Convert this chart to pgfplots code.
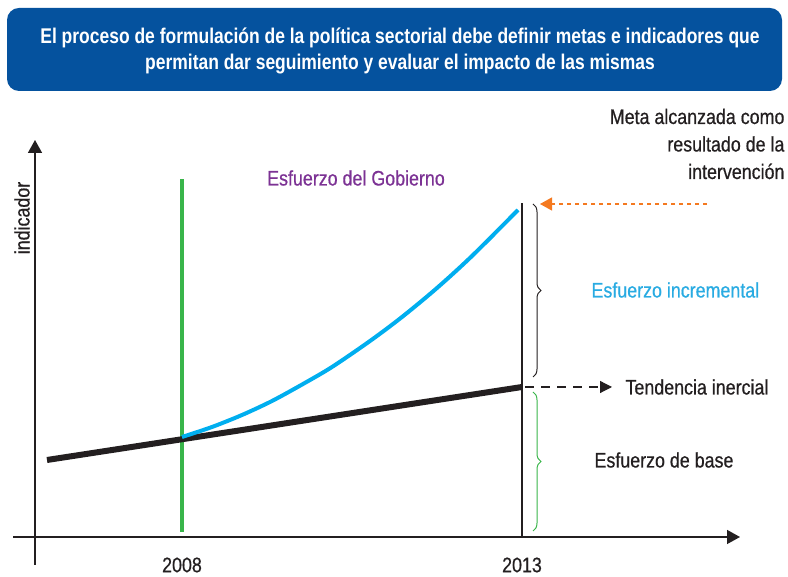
\documentclass[border=0pt]{standalone}
\usepackage{fontspec}
\setmainfont{Liberation Sans}[FakeStretch=0.85, FakeBold=0.6]
\newfontfamily\titlefont{Liberation Sans}[FakeStretch=0.82]
\usepackage{pgfplots}
\pgfplotsset{compat=1.18}
\usetikzlibrary{decorations.pathreplacing,arrows.meta}
\definecolor{titleblue}{RGB}{5,82,158}
\definecolor{curveblue}{RGB}{0,174,239}
\definecolor{txtblue}{RGB}{41,171,226}
\definecolor{govgreen}{RGB}{57,181,74}
\definecolor{govpurple}{RGB}{124,50,148}
\definecolor{metaorange}{RGB}{244,121,32}
\definecolor{dark}{RGB}{35,31,32}
\begin{document}
\begin{tikzpicture}
\begin{axis}[scale only axis, width=788pt, height=577pt,
  xmin=0, xmax=788, ymin=0, ymax=577, hide axis, clip=false]
\coordinate (bl) at (axis cs:0,0);
\coordinate (tr) at (axis cs:788,577);
% title box
\draw[fill=titleblue, draw=none, rounded corners=12pt] (axis cs:7,486) rectangle (axis cs:782,569);
\node[text=white, align=center, font=\titlefont\bfseries\fontsize{21.3}{26}\selectfont]
  at (axis cs:400,526) {El proceso de formulación de la política sectorial debe definir metas e indicadores que\\permitan dar seguimiento y evaluar el impacto de las mismas};
% axes
\draw[dark, line width=1.5pt, -{Triangle[length=13pt,width=14pt]}] (axis cs:35,12) -- (axis cs:35,437);
\draw[dark, line width=1.5pt, -{Triangle[length=13pt,width=14pt]}] (axis cs:13,40) -- (axis cs:740,40);
% vertical lines
\addplot[govgreen, line width=3.5pt] coordinates {(182,45) (182,398)};
\addplot[dark, line width=1.5pt] coordinates {(522,40) (522,374)};
% inertial trend
\addplot[dark, line width=6pt] coordinates {(47,117) (522,190)};
% incremental effort curve
\addplot[curveblue, line width=4pt, smooth] coordinates {
 (182,140) (212,150) (242,162) (272,176) (303,193) (332,210)
 (370,236) (402,260) (437,289) (472,321) (518,367)};
% braces
\draw[dark, line width=1pt, decorate, decoration={brace, amplitude=8pt}] (axis cs:533,373) -- (axis cs:533,200);
\draw[govgreen, line width=1pt, decorate, decoration={brace, amplitude=8pt}] (axis cs:533,185) -- (axis cs:533,46);
% dashed arrows
\draw[metaorange, line width=1.2pt, dash pattern=on 4pt off 4pt, -{Triangle[length=12pt,width=13pt]}] (axis cs:707,373) -- (axis cs:540,373);
\draw[dark, line width=1.2pt, dash pattern=on 9pt off 7pt, -{Triangle[length=12pt,width=12pt]}] (axis cs:525,190) -- (axis cs:612,190);
% labels
\node[dark, anchor=west, font=\fontsize{21}{24}\selectfont] at (axis cs:622,190) {Tendencia inercial};
\node[txtblue, anchor=west, font=\fontsize{21}{24}\selectfont] at (axis cs:588,287) {Esfuerzo incremental};
\node[dark, anchor=west, font=\fontsize{21}{24}\selectfont] at (axis cs:591,117) {Esfuerzo de base};
\node[dark, anchor=east, align=right, font=\fontsize{21}{27.5}\selectfont] at (axis cs:788,433) {Meta alcanzada como\\resultado de la\\intervención};
\node[govpurple, font=\fontsize{21}{24}\selectfont] at (axis cs:356,399) {Esfuerzo del Gobierno};
\node[dark, rotate=90, font=\fontsize{21}{24}\selectfont] at (axis cs:22,359) {indicador};
\node[dark, font=\fontsize{21}{24}\selectfont] at (axis cs:182,12) {2008};
\node[dark, font=\fontsize{21}{24}\selectfont] at (axis cs:522,12) {2013};
\end{axis}
\pgfresetboundingbox
\useasboundingbox (bl) rectangle (tr);
\end{tikzpicture}
\end{document}
